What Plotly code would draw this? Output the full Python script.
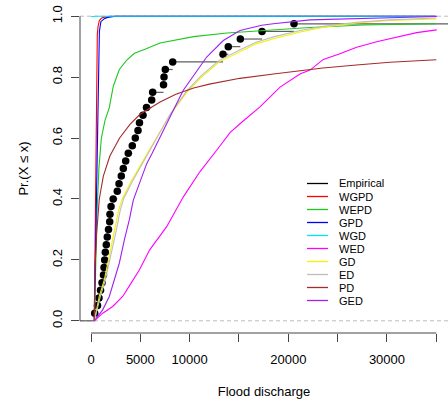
import plotly.graph_objects as go

# Empirical flood discharges (sorted sample, n = 40; the largest lies beyond the plotted range)
flood_sorted = [375, 660, 810, 965, 1115, 1265, 1320, 1390, 1450, 1550,
                1650, 1775, 1895, 1925, 2030, 2250, 2665, 2840, 3070, 3275,
                3515, 3780, 4185, 4490, 4765, 4915, 5270, 5625, 6150, 6250,
                7350, 7400, 7530, 8280, 13380, 13915, 15135, 17335, 20575, 40000]

# Fitted CDF curves (discharge, probability)
wgpd_x = [330, 380, 436, 507, 560, 640, 710, 841, 1000, 1216, 2000, 35000]
wgpd_p = [0, 0.15, 0.40, 0.70, 0.85, 0.94, 0.965, 0.985, 0.992, 0.996, 1.0, 1.0]

wepd_x = [350, 450, 600, 800, 1050, 1420, 1855, 2260, 2870, 3600, 4400, 5350,
          7000, 10400, 13800, 17200, 22200, 27600, 35000]
wepd_p = [0, 0.15, 0.35, 0.50, 0.60, 0.658, 0.70, 0.77, 0.825, 0.855, 0.878, 0.89,
          0.912, 0.933, 0.945, 0.952, 0.963, 0.971, 0.975]

gpd_x = [335, 420, 557, 679, 760, 850, 1000, 1350, 1680, 2500, 35000]
gpd_p = [0, 0.15, 0.40, 0.72, 0.88, 0.95, 0.982, 0.992, 0.996, 1.0, 1.0]

wgd_x = [0, 500, 35000]
wgd_p = [0.998, 1.0, 1.0]

wed_x = [335, 1190, 2200, 3210, 4050, 4900, 5950, 6950, 7670, 9360, 11050, 12740,
         14090, 15100, 17130, 19160, 20170, 21180, 22200, 23550, 25230, 26930,
         28950, 30980, 33010, 35040]
wed_p = [0, 0.025, 0.047, 0.08, 0.123, 0.167, 0.233, 0.275, 0.309, 0.407, 0.49, 0.56,
         0.618, 0.647, 0.702, 0.767, 0.789, 0.81, 0.823, 0.858, 0.877, 0.898,
         0.916, 0.932, 0.946, 0.955]

gd_x = [335, 841, 1348, 1855, 2362, 2787, 3112, 3953, 5300, 6660, 8000, 9700,
        11200, 13000, 15100, 16800, 18500, 21200, 23550, 26900, 30300, 35000]
gd_p = [0, 0.08, 0.134, 0.21, 0.287, 0.36, 0.396, 0.451, 0.527, 0.60, 0.675, 0.75,
        0.80, 0.85, 0.882, 0.91, 0.926, 0.948, 0.964, 0.978, 0.986, 0.991]

ed_x = [335, 950, 1450, 2000, 2500, 2950, 3300, 4150, 5450, 6750, 8000, 9700,
        11200, 13000, 15100, 16800, 18500, 21200, 23550, 26900, 30300, 35000]
ed_p = [0, 0.08, 0.134, 0.21, 0.287, 0.36, 0.40, 0.455, 0.53, 0.605, 0.677, 0.755,
        0.806, 0.855, 0.89, 0.915, 0.932, 0.953, 0.967, 0.98, 0.988, 0.994]

pd_x = [330, 400, 580, 840, 1250, 1900, 2900, 3950, 4970, 7000, 8600, 10400,
        12000, 15100, 18500, 21200, 23500, 26900, 30300, 35000]
pd_p = [0, 0.17, 0.29, 0.40, 0.475, 0.54, 0.60, 0.645, 0.678, 0.718, 0.744, 0.764,
        0.777, 0.796, 0.81, 0.82, 0.83, 0.84, 0.849, 0.857]

ged_x = [335, 1186, 1855, 2362, 2868, 3375, 3882, 4288, 5646, 6200, 7850, 8342,
         9356, 10035, 10700, 11727, 12000, 13410, 15103, 17302, 18478, 21184,
         22198, 35040]
ged_p = [0, 0.036, 0.08, 0.134, 0.189, 0.265, 0.331, 0.396, 0.516, 0.55, 0.655, 0.691,
         0.757, 0.789, 0.82, 0.866, 0.875, 0.92, 0.953, 0.97, 0.975, 0.986,
         0.988, 0.999]

legend_names = ["Empirical", "WGPD", "WEPD", "GPD", "WGD", "WED", "GD", "ED", "PD", "GED"]
legend_colors = ["#000000", "#FF0000", "#1EC81E", "#0000FF", "#00E5FF", "#FF00FF",
                 "#F2F200", "#BEBEBE", "#A52A2A", "#A020F0"]

x_tick_vals = [0, 5000, 10000, 15000, 20000, 25000, 30000, 35000]
x_tick_text = ["0", "5000", "10000", "", "20000", "", "30000", ""]
y_tick_vals = [0.0, 0.2, 0.4, 0.6, 0.8, 1.0]
y_tick_text = ["0.0", "0.2", "0.4", "0.6", "0.8", "1.0"]

X_RANGE = [-1115, 36186]
Y_RANGE = [-0.04, 1.04]
FONT = "Liberation Sans, Arial, sans-serif"

fig = go.Figure()

# Reference lines at probability 0 and 1
for level in (0.0, 1.0):
    fig.add_shape(type="line", xref="paper", yref="y", x0=0, x1=1, y0=level, y1=level,
                  line=dict(color="#BDBDBD", width=1, dash="4px,3px"), layer="below")

# Empirical CDF: horizontal steps plus jump points
n = len(flood_sorted)
probs = [(i + 1) / n for i in range(n)]
step_x, step_y = [X_RANGE[0], flood_sorted[0], None], [0, 0, None]
for i in range(n - 1):
    step_x += [flood_sorted[i], flood_sorted[i + 1], None]
    step_y += [probs[i], probs[i], None]
fig.add_trace(go.Scatter(x=step_x, y=step_y, mode="lines",
                         line=dict(color="#5E5E5E", width=1.2), hoverinfo="skip",
                         showlegend=False))
fig.add_trace(go.Scatter(x=flood_sorted, y=probs, mode="markers",
                         marker=dict(color="#000000", size=7.5), showlegend=False))

curves = [(wgpd_x, wgpd_p), (wepd_x, wepd_p), (gpd_x, gpd_p), (wgd_x, wgd_p),
          (wed_x, wed_p), (gd_x, gd_p), (ed_x, ed_p), (pd_x, pd_p), (ged_x, ged_p)]
for (cx, cp), name, color in zip(curves, legend_names[1:], legend_colors[1:]):
    fig.add_trace(go.Scatter(x=cx, y=cp, mode="lines", name=name,
                             line=dict(color=color, width=1.1), showlegend=False))

# Axis lines spanning only the tick range (base-graphics style)
fig.add_shape(type="line", xref="x", yref="paper", x0=x_tick_vals[0], x1=x_tick_vals[-1],
              y0=0, y1=0, line=dict(color="#444444", width=1))
fig.add_shape(type="line", xref="paper", yref="y", x0=0, x1=0,
              y0=y_tick_vals[0], y1=y_tick_vals[-1], line=dict(color="#444444", width=1))

# Legend box (no frame)
PLOT_L, PLOT_W, PLOT_T, PLOT_H = 80, 368, 4, 329
def px_to_paper_x(px):
    return (px - PLOT_L) / PLOT_W
def px_to_paper_y(py):
    return (PLOT_T + PLOT_H - py) / PLOT_H

for k, (name, color) in enumerate(zip(legend_names, legend_colors)):
    row_y = px_to_paper_y(183.5 + 13 * k)
    fig.add_shape(type="line", xref="paper", yref="paper",
                  x0=px_to_paper_x(307), x1=px_to_paper_x(328), y0=row_y, y1=row_y,
                  line=dict(color=color, width=1.3))
    fig.add_annotation(xref="paper", yref="paper", x=px_to_paper_x(337), y=row_y,
                       text=name, showarrow=False, xanchor="left", yanchor="middle",
                       font=dict(family=FONT, size=11, color="#000000"))

fig.update_layout(
    width=448, height=402,
    margin=dict(l=PLOT_L, r=0, t=PLOT_T, b=69, pad=0),
    paper_bgcolor="white", plot_bgcolor="white",
    font=dict(family=FONT, size=13, color="#000000"),
    xaxis=dict(range=X_RANGE, showgrid=False, zeroline=False, showline=False,
               tickmode="array", tickvals=x_tick_vals, ticktext=x_tick_text,
               ticks="outside", ticklen=8, tickwidth=1, tickcolor="#444444",
               ticklabelstandoff=6,
               title=dict(text="Flood discharge", standoff=21,
                          font=dict(family=FONT, size=13))),
    yaxis=dict(range=Y_RANGE, showgrid=False, zeroline=False, showline=False,
               tickmode="array", tickvals=y_tick_vals, ticktext=y_tick_text,
               ticks="outside", ticklen=8, tickwidth=1, tickcolor="#444444",
               tickangle=-90, ticklabelstandoff=4,
               title=dict(text="Pr.(X ≤ x)", standoff=18,
                          font=dict(family=FONT, size=13))),
)

fig.write_html("out.html")
